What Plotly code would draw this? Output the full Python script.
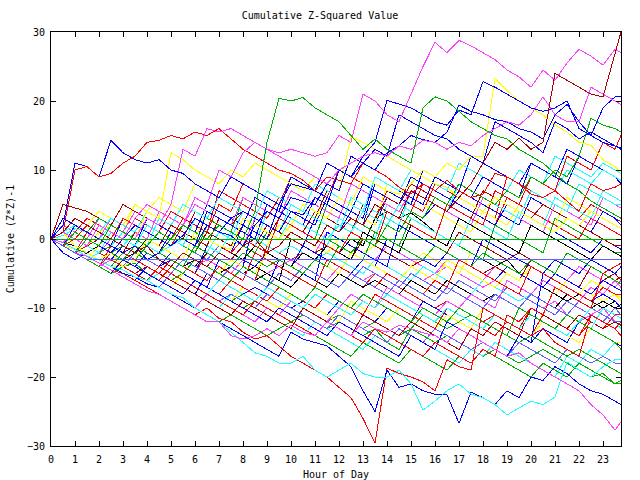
import plotly.graph_objects as go

# hours: every half hour, plus final quarter (23.75)
HOURS = [i * 0.5 for i in range(48)] + [23.75]

COLORS = {
    "red": "#ff0000", "green": "#00b000", "blue": "#0000ff", "magenta": "#ff40ff",
    "cyan": "#20ffff", "darkred": "#a80000", "yellow": "#ffff00", "black": "#000000",
    "slateblue": "#6060ff",
}

s01 = [0,-0.5, 1,0, -1,2, 1,0,
       3,2, 5,13, 12,16, 15.5,16,
       15,14, 13,12.5, 13,12.5, 12,12.5,
       15,14, 21,20, 18,17, 21,25,
       28.5,27, 28.8,28, 27,26, 24.5,23.5,
       22,24.5, 23,25.5, 27.5,26.5, 25.2,27.5,
       27]
s02 = [0,1, 0,-1, 2,1, 0,3,
       5,4, 3,2, 6,5, 10,9,
       12.5,14, 13,12, 11,10, 9,8,
       10,11, 12,12.5, 12,13.5, 13,14.3,
       14,13, 14,13.5, 15,16, 17,16.5,
       18,20.6, 18,17, 17,22, 21,20,
       19.5]
s03 = [0,1, 3,2, 1,0, -1,-2,
       -1,-3, -4,-2, -3,-4, -2,-3,
       -1,0, -2,-1, 1,0, -1,2,
       1,3, 2,5, 4,3, 7,6,
       5,4, 6,8, 11,14, 13,14.6,
       13,14, 24,23, 22,21, 20.6,27,
       30]
s04 = [0,-1, 1,0, -1,2, 1,0,
       -1,1, 0,2, 1,0, 2,1,
       0,4, 14,20.4, 20,20.5, 19,18,
       17,15, 13,14.5, 13,12, 11,19,
       20.6,20, 18.5,17, 16,15, 14.5,13,
       12,11, 9.5,8, 7,5.5, 4.5,3.5,
       3]
s05 = [0,-1, -2,-2.5, -3.5,-4.5, -5,-6,
       -7,-8, -9,-10, -11,-10, -11.5,-12,
       -13.5,-14.5, -14,-15.5, -17,-18, -19,-20,
       -21.5,-23, -26,-29.6, -18.7,-19.5, -20,-20.7,
       -22,-17.5, -18.5,-19, -10,-11, -12,-13,
       -14,-13, -15,-16, -17,-11, -12,-13,
       -14]
s06 = [0,-1, -2,-3, -3,-4, -5,-5.5,
       -6.5,-7, -8,-9, -10,-11, -12,-13,
       -14,-15, -16,-17, -13.5,-14.5, -15,-15.5,
       -17,-18.5, -22,-25, -19,-21.5, -21,-22,
       -22.5,-22.6, -26.7,-22.2, -23,-24, -22,-23,
       -20,-20.5, -18.5,-19.5, -21,-22, -22.5,-23.5,
       -24]
s07 = [0,-0.5, -1.5,-2.5, -3,-4, -4.5,-5.5,
       -6,-7, -8,-8.5, -10,-11, -12,-13.5,
       -15,-16.5, -17,-18, -18,-17, -19,-20,
       -19,-18, -19.5,-20, -20,-19, -21,-24.8,
       -23.5,-22, -21,-22.5, -23,-24, -25.5,-24.5,
       -23.5,-24, -22.9,-17.8, -19,-20, -18.5,-17.5,
       -17.5]
s08 = [0,-1, -2,-2.5, -3.5,-4.5, -5.5,-6.5,
       -7.5,-8, -9,-10, -11,-12, -12,-14,
       -14.5,-14, -13,-14, -12.5,-13.5, -14,-12,
       -13,-14, -12,-13, -13.5,-12.5, -13,-13.6,
       -14,-15, -13,-14, -15,-16, -17,-16.5,
       -18,-19, -20,-21, -22,-24, -25.5,-27.7,
       -26.5]
s09 = [0,2, 11,10.5, 9,14.3, 12.5,11.5,
       11,11.5, 10,9.5, 8,7, 6,9,
       8,7, 6,5, 8,7.5, 7,11,
       10,9, 11,13, 12,18, 17,16,
       15,14.5, 13,12, 11,17, 16,15,
       14,12.5, 17,16, 14.5,15.5, 14.5,13.5,
       13]
s10 = [0,1, 10,10.5, 9,9.5, 11,12,
       14,14.3, 15,14.5, 15.5,15, 16,14.5,
       13,12, 11,10, 9.5,8.5, 7,9,
       8.5,8, 11,10, 9,7.5, 6.5,8,
       7,8.5, 7,6, 6.5,9.5, 9,8,
       6.5,6, 7,5.5, 4,8, 7,7.5,
       8]
s11 = [0,-1, 1,0, -1,-2, 0,2,
       1,0, -1,0.5, 3,2, 1,3,
       4,3, 2,1, 4,3.5, 6,5,
       10,9, 12,14, 20.1,19.5, 19,18,
       17,16.5, 18.7,18, 22.8,22, 21,20,
       19,18.5, 19,20, 16,15, 19,20.6,
       20.6]
s12 = [0,3, 2,1, 0,-1, -2,-1,
       -3,-2, 1,0, -1,2, 1,0.5,
       -1,2, 4,3, 6,5.5, 5,8,
       7,12, 11,10, 12.5,13.5, 15,14.4,
       14,15.5, 19.4,18.5, 18,17.3, 17,16,
       15.5,14.5, 18,19.5, 17,15, 14,13.5,
       13.2]
s13 = [0,1, -1,-2, -3,-2, -4,-3,
       0,-1, -2,-3, 1,0, -1,-1.5,
       3,2, 1,0, 2,5, 4,3,
       6,5, 9,8, 7,6.5, 8,10,
       9,11, 10,12, 12,23.3, 21.5,20,
       19,18, 16.5,15.5, 14,13.6, 11.5,10.5,
       9.7]
s14 = [0,-1, -2,1, 0,-1, -2,-3,
       -1,-2, -3,-4, -5,-2, -3,-4,
       -5,-6, -1,-2, -3,-2, -3,-4,
       -5,-6, -7,-5, -6,-7, -8,-9,
       -10,-9, -10,-11, -12,-11, -12,-13,
       -10,-11, -12,-13, -14,-11, -12,-13,
       -12]
s15 = [0,1, 0,-1, -2,-3, -4,-3.5,
       -5,-6, -4,-5, -6,-7, -8,-9,
       -10,-9, -10,-11, -12,-11, -12,-13,
       -12,-13, -14,-13, -15,-16, -13,-14,
       -15,-14, -15,-16, -17,-16, -17,-18,
       -17,-16, -17,-18, -19,-20, -19.5,-21,
       -21]
s16 = [0,-1, -1.5,-2, -3,-4, -2,-3,
       -4,-5, -6,-5, -6,-7, -8,-9,
       -8,-9, -10,-11, -9,-10, -11,-12,
       -11,-12, -13,-12, -13,-14, -13,-11,
       -12,-13, -12,-11, -12,-13, -14,-15,
       -14,-15, -16,-17, -16,-17, -18,-19,
       -19.5]
s17 = [0,-1, -2,-1, -2,-3, -4,-5,
       -6,-5, -6,-7, -8,-9, -10,-8,
       -9,-10, -11,-12, -13,-14, -12,-13,
       -14,-15, -16,-14, -15,-13, -14,-15,
       -16,-17, -18,-16, -17,-15, -16,-17,
       -18,-19, -20,-17, -18,-16, -17,-15,
       -15]
s18 = [0,1, 0,2, 1,0, -1,1,
       0,-1, 2,1, 0,-1, 3,2,
       1,0, -1,-2, -1,-2, -3,-2,
       -3,-4, -5,-3, -4,-5, -6,-4,
       -5,-6, -7,-8, -6,-7, -8,-9,
       -8,-9, -10,-11, -12,-10, -11,-12,
       -13]
s19 = [0,1, 2,1, 0,-1, 1,0,
       -1,-2, -1,0, -1,-2, 1,0,
       -1,2, 1,0, 3,2, 1,0,
       2,1, 4,3, 2,5, 4,3,
       6,5, 8,7, 6,5, 7,6,
       9,8, 7,10, 9,8, 10,9,
       8.5]
s20 = [0,-1, 0,-1, 1,0, -1,-2,
       -3,-2, 0,-1, -2,1, 0,-1,
       2,1, 0,3, 2,1, 4,3,
       2,1, 5,4, 3,2, 1,0,
       -1,-2, 1,0, -1,-2, -3,-2,
       -3,-4, -5,-6, -4,-5, -6,-5,
       -6]
s21 = [0,5, 4.5,4, 3,2, 5,4,
       3,2, 1,0, 4,3, 2,1,
       0,-1, 2,1, 0,-1, -2,-1,
       -2,-3, 0,-1, -2,-3, -4,-3,
       -4,-2, -3,-4, -5,-4, -5,-6,
       -3,-4, -5,-6, -7,-4, -5,-6,
       -5.5]
s22 = [0,2, 1,0, 3,2, 1,5,
       4,3, 2,1, 0,4, 3,2,
       1,0, -1,2, 1,0, -1,-2,
       0,-1, -2,-1, -2,-3, -4,-2,
       -3,-4, -5,-2, -3,-4, -3,-5,
       -6,-7, -8,-6, -7,-8, -9,-8,
       -9]
s23 = [0,1, 0,-1, 1,2, 1,0,
       4,3, 12.5,11.5, 10,9, 8,10,
       9,11, 10,9, 8,7, 9,8,
       7,14.8, 14,13, 12,11, 10,9,
       8,7.5, 6,5, 4,6, 5,4,
       3,2, 1,3, 2,4, 3,2,
       1.5]
s24 = [0,-2, -3,-2, -3,-4, -5,-6,
       -4,-5, -6,-7, -8,-5, -6,-7,
       -8,-7, -8,-9, -10,-9, -10,-11,
       -9,-10, -11,-12, -10,-11, -12,-9,
       -10,-11, -12,-13, -14,-12, -13,-14,
       -15,-13, -14,-15, -12,-13, -14,-15,
       -15.5]
s25 = [0,-1, -2,-3, -2,-3, -1,-2,
       -3,-4, -3,-4, -5,-1, -2,-3,
       -4,3, 2,1, 0,-1, 3,2,
       1,4, 3,2, 6,5, 4,3,
       5,4, 7,6, 5,4, 3,2,
       6,5, 4,3, 2,1, 4,3,
       2]
s26 = [0,-1, 0,-1, -2,0, -1,-2,
       -3,-4, -2,-3, -4,-3, -4,-5,
       -3,-4, -5,-4, -3,-4, -5,-6,
       -4,-5, -6,-5, -6,-7, -5,-6,
       -5,-4, -5,-6, -7,-6, -7,-8,
       -9,-10, -9,-11, -12,-11, -10,-12,
       -12]
s27 = [0,1, 0,-1, -2,-1, -2,-3,
       -1,-2, -3,-4, -3,-4, -5,-4,
       -5,-6, -5,-6, 0,-1, -2,-1,
       -2,0, -1,3, 4,3, 3.8,2.5,
       1,0, -1,-2, -3,-4, -3,-5,
       -6,-7, -8,-9, -8,-9, -10,-9,
       -10]
s28 = [0,-0.5, -1,-2, -1,-2, -3,-2,
       -3,-4, -2,-3, -4,-2, -3,-4,
       -5,-4, -5,-6, -7,-5, -6,-7,
       -5,-6, -7,-6, -7,-8, -6,-7,
       -8,-6, -7,-8, -9,-8, -9,-10,
       -8,-9, -10,-8, -9,-10, -9,-10,
       -9.5]
s29 = [0,2, 1,3, 2,1, 0,-1,
       2,1, 0,3, 2,1, 7,6,
       5,4, 3,6, 5,4, 8,7,
       6,5, 4,3, 7,6, 5,4,
       8,7, 6,5, 4,3, 9,8,
       7,6, 5,4, 3,5, 4,3,
       2.5]
s30 = [0,-1, -2,-3, -4,-2, -3,-4,
       -5,-6, -4,-5, -6,-7, -8,-6,
       -7,-8, -9,-7, -8,-9, -10,-8,
       -9,-10, -11,-8, -9,-10, -11,-12,
       -13,-10, -11,-12, -13,-14, -12,-13,
       -14,-11, -12,-13, -14,-12, -13,-11,
       -11]
s31 = [0,1, 2,1, 3,2, 1,0,
       4,3, 2,5, 4,3, 2,1,
       6,5, 4,3, 2,1, 0,5,
       4,3, 2,1, 0,-1, 3,2,
       1,0, -1,-2, -3,2, 1,0,
       -1,-2, 3,2, 1,0, -1,-2,
       -2]
s32 = [0,-1, 1,0, -1,-2, -1,-2,
       -3,-2, -3,-4, -1,-2, -3,-4,
       -2,-3, -4,-3, -4,-5, -3,-4,
       -1,-2, 0,-1, 2,1, 4,3,
       6,5, 8,7, 6,5, 7,6,
       9,8, 10,9, 12,17.5, 16.5,16,
       15.5]
s33 = [0,-1, -2,-3, -4,-5, -3,-4,
       -5,-6, -7,-8, -6,-7, -8,-9,
       -10,-11, -12,-10, -11,-12, -13,-14,
       -12,-13, -14,-15, -16,-17, -14,-15,
       -16,-12, -13,-14, -15,-16, -17,-14,
       -15,-5, -6,-7, -8,-9, -8,-9,
       -10]
s34 = [0,1, 0,-1, 2,1, 0,-1,
       3,2, 1,0, -1,4, 3,2,
       1,0, 5,4, 3,2, 6,5,
       4,3, 2,8, 7,6, 5,10,
       9,8, 7,6, 9,8, 7,6,
       11,10, 9,8, 12,11, 10,9,
       8]
s35 = [0,-1, -2,-1, -2,-3, -4,-5,
       -6,-7, -5,-6, -7,-8, -9,-8,
       -9,-10, -8,-9, -10,-11, -12,-13,
       -11,-12, -13,-14, -15,-13, -14,-15,
       -13,-14, -15,-16, -15,-16, -17,-15,
       -16,-17, -18,-16, -17,-18, -17,-18,
       -18]
s36 = [0,-1, -1.5,-2.5, -3.5,-4.5, -3,-4,
       -5,-6, -7,-5, -6,-7, -8,-9,
       -7,-8, -9,-10, -8,-9, -10,-11,
       -12,-9, -10,-11, -12,-10, -11,-12,
       -13,-11, -12,-13, -10,-11, -12,-13,
       -14,-12, -13,-14, -15,-13, -14,-15,
       -15]
s37 = [0,0.5, 1.5,1, 0,2, 1,0,
       -1,3, 2,1, 0,-1, -2,1,
       0,-1, 4,3, 2,1, 0,-1,
       3,2, 1,0, 5,4, 3,2,
       1,0, -1,3, 2,1, 0,4,
       3,2, 6,5, 4,3, 7,6,
       5.5]
s38 = [0,-1, -2,-3, -4,-3, -4,-5,
       -6,-7, -8,-9, -10,-8, -9,-10,
       -11,-12, -10,-11, -9,-10, -11,-12,
       -10,-8, -9,-10, -7,-8, -9,-10,
       -11,-9, -10,-8, -9,-10, -6,-7,
       -8,-6, -7,-8, -9,-7, -8,-6,
       -7]
s39 = [0,-1, 0,2, 1,0, 3,2,
       1,0, -1,2, 1,0, -1,-2,
       0,-1, -2,3, 2,1, 0,-1,
       -2,1, 0,-1, 4,3, 2,1,
       0,5, 4,3, 2,7, 6,5,
       9,8, 7,12, 11,10, 14,13,
       15]
s40 = [0,-1, -2,-3, -2,-3, -4,-5,
       -4,-5, -6,-7, -8,-9, -10,-11,
       -9,-10, -11,-12, -13,-10, -11,-12,
       -13,-14, -11,-12, -13,-14, -12,-13,
       -14,-15, -16,-13, -14,-12, -13,-14,
       -10,-11, -12,-13, -11,-12, -13,-12,
       -12.5]
s41 = [0,1, 3,2, 1,0, -1,-2,
       0,-1, -2,-3, 1,0, -1,-2,
       -3,-4, -2,-3, -4,-1, -2,-3,
       -4,-5, -3,-4, 0,-1, -2,-3,
       -4,-2, -3,-4, -5,-6, -4,-5,
       -6,-7, -5,-6, -7,-8, -6,-7,
       -7.5]
s42 = [0,1, 3,2, 4,3, 2,5,
       4,6, 5,4, 8,7, 6,5,
       4,3, 7,6, 5,4, 3,6,
       5,4, 3,2, 8,7, 6,5,
       4,3, 2,1, 4,3, 2,5,
       4,3, 2,6, 5,4, 3,2,
       1.5]
s43 = [0,-1, -2,-1, -2,-3, -4,-5,
       -6,-4, -5,-6, -7,-8, -9,-10,
       -11,-9, -10,-11, -12,-13, -14,-12,
       -13,-14, -15,-13, -14,-15, -16,-17,
       -15,-16, -17,-18, -16,-17, -11,-12,
       -10,-11, -7,-8, -9,-10, -5,-4,
       -3.5]
s44 = [0,-1, -2,0, -1,-2, -3,-1,
       -2,-3, -4,-5, -3,-4, -5,-6,
       -4,-5, -6,-7, -8,-9, -7,-8,
       -9,-10, -8,-9, -10,-11, -12,-10,
       -11,-12, -10,-11, -12,-13, -14,-10,
       -11,-12, -13,-11, -12,-13, -14,-15,
       -16]
s45 = [0] * 49
s46 = [0,-1, -2,-3, -3,-3, -3,-3,
       -3,-3, -3,-3, -3,-3, -3,-3,
       -3,-3, -3,-3, -3,-3, -3,-3,
       -3,-3, -3,-3, -3,-3, -3,-3,
       -3,-3, -3,-3, -3,-3, -3,-3,
       -3,-3, -3,-3, -3,-3, -3,-3,
       -3]
s47 = [0,2, 1,0, 3,2, 1,4,
       3,2, 1,0, -1,2, 1,0,
       -1,3, 2,1, 0,-1, -2,1,
       0,-1, -2,-3, -1,-2, -3,-4,
       -5,-3, -4,-5, -6,-4, -5,-6,
       -3,-4, -5,-6, -4,-5, -6,-7,
       -6]
s48 = [0,-1, 0,-1, -2,1, 0,-1,
       2,1, 0,-1, 3,2, 1,0,
       4,3, 2,1, 5,4, 3,2,
       1,6, 5,4, 3,2, 7,6,
       5,4, 8,7, 6,5, 4,3,
       7,6, 5,4, 8,7, 6,5,
       5]
s49 = [0,1, 0,2, 1,0, -1,-2,
       -1,1, 0,-1, -2,-3, -1,-2,
       -3,-4, -2,-3, -4,-5, -3,-4,
       -5,-6, -4,-5, -6,-7, -5,-6,
       -7,-8, -6,-7, -8,-9, -7,-8,
       -9,-10, -11,-9, -10,-11, -12,-10,
       -11]
s50 = [0,-1, -2,-3, -1,-2, -3,-4,
       -2,-3, -4,-5, -6,-7, -3,-4,
       -5,-6, -7,-3, -4,-5, -6,1,
       0,-1, -2,-3, -4,2, 1,0,
       -1,-2, -3,-4, 0,-1, -2,-3,
       -4,-5, -3,-4, -5,-3, -4,-5,
       -4]
s51 = [0,1, 0,-1, 2,1, 0,3,
       2,1, 4,3, 2,1, 5,4,
       8,7, 6,5, 9,8, 7,6,
       10,9, 8,7, 6,5, 4,8,
       7,6, 5,4, 3,2, 6,5,
       4,3, 2,1, 0,3, 2,1,
       0.5]
s52 = [0,-1, 2,1, 0,-1, 3,2,
       1,0, -1,2, 1,5, 4,3,
       2,6, 5,4, 9,8, 7,6,
       5,4, 8,7, 6,5, 9,8,
       7,6, 5,4, 3,2, 5,4,
       3,2, 1,0, -1,-2, 0,-1,
       -1.5]
s53 = [0,-1, -2,-1, 0,-1, -2,1,
       0,-1, 2,1, 0,-1, 3,2,
       4,3, 2,1, 5,4, 3,7,
       6,5, 4,3, 6,5, 8,7,
       6,5, 4,3, 7,6, 5,4,
       3,5, 4,3, 2,1, 0,-1,
       -1]
s54 = [0,-1, 0,-1, -2,-1, -2,-3,
       -1,-2, 0,-1, -2,2, 1,0,
       -1,-2, 1,0, 3,2, 1,0,
       -1,-2, -3,1, 0,-1, -2,-3,
       -1,-2, -3,-4, -2,-3, -4,-5,
       -3,-4, -5,-2, -3,-4, -5,-6,
       -6.5]
s55 = [0,-1, -2,-3, -2,-3, -4,-5,
       -6,-4, -5,-6, -7,-8, -6,-7,
       -8,-9, -7,-8, -9,-10, -8,-9,
       -10,-11, -9,-10, -8,-9, -10,-11,
       -12,-10, -11,-12, -13,-11, -12,-13,
       -11,-12, -13,-14, -12,-13, -10,-11,
       -11.5]
s56 = [0,1, 2,1, 0,3, 2,1,
       0,4, 3,2, 5,4, 3,2,
       6,5, 4,3, 7,6, 5,4,
       3,8, 7,6, 5,4, 7,6,
       5,4, 3,2, 6,5, 4,3,
       2,1, 5,4, 3,2, 6,5,
       4.5]
s57 = [0,-1, -2,-3, -1,-2, -3,-1,
       -2,-3, -4,-2, -3,-4, -5,-3,
       -4,-5, -2,-3, -4,-5, -3,-4,
       -5,-2, -3,-4, -5,-6, -4,-5,
       -6,-3, -4,-5, -6,-7, -5,-6,
       -4,-5, -6,-7, -8,-6, -7,-8,
       -8.5]
s58 = [0,-1, 1,0, -1,-2, -1,-2,
       0,-1, -2,-3, 1,0, -1,-2,
       -3,-1, -2,-3, -4,-2, -3,-1,
       -2,-3, 1,0, -1,-2, 2,1,
       0,-1, 3,2, 1,0, -1,-2,
       2,1, 0,-1, -2,-3, -1,-2,
       -2.5]
s59 = [0,-1, -2,-1, -2,-3, -1,-2,
       -3,-4, -2,-3, 1,0, -1,-2,
       2,1, 0,5, 4,3, 2,6,
       5,4, 3,9, 8,7, 6,5,
       9,8, 7,12, 11,10, 9,8,
       11,10, 9,13, 12,11, 10,9,
       8.5]
s60 = [0,-1, -2,-3, -4,-1, -2,-3,
       -4,-5, -3,-4, -5,-6, -4,-5,
       -6,-2, -3,-4, -5,-6, -7,-3,
       -4,-5, -6,-7, -5,-6, -7,-8,
       -6,-7, -3,-4, -5,-6, -7,-8,
       -4,-5, -6,-7, -8,-9, -7,-8,
       -8]
s61 = [0,-1, -2,-1, -2,-3, -4,-2,
       -3,-4, -5,-3, -4,-5, -6,-4,
       -5,-6, -7,-5, -6,-4, -5,-6,
       -7,-5, -6,-7, -8,-6, -7,-8,
       -9,-7, -8,-9, -10,-8, -9,-10,
       -8,-9, -10,-11, -9,-10, -11,-12,
       -12]
s62 = [0,1, 0,2, 1,3, 2,1,
       4,3, 2,5, 4,3, 6,5,
       4,3, 7,6, 5,4, 8,7,
       6,5, 4,9, 8,7, 10,9,
       8,7, 11,10, 9,8, 7,10,
       9,8, 12,11, 10,9, 11,10,
       9.5]
s63 = [0,-1, -2,-3, -4,-5, -4,-5,
       -6,-7, -8,-9, -10,-11, -12,-11,
       -12,-13, -14,-13, -12,-13, -14,-15,
       -16,-17, -15,-16, -17,-18, -16,-17,
       -18,-19, -17,-18, -16,-17, -18,-19,
       -20,-18, -19,-20, -18,-19, -20,-21,
       -20.5]

SERIES = [
    (s14, "red"), (s15, "green"), (s24, "blue"), (s26, "magenta"), (s17, "cyan"),
    (s20, "darkred"), (s22, "yellow"), (s27, "black"), (s49, "slateblue"),
    (s29, "red"), (s16, "green"), (s25, "blue"), (s47, "magenta"), (s18, "cyan"),
    (s21, "darkred"), (s36, "yellow"), (s28, "black"), (s35, "slateblue"),
    (s30, "red"), (s31, "green"), (s33, "blue"), (s38, "magenta"), (s37, "cyan"),
    (s40, "darkred"), (s42, "yellow"), (s41, "blue"), (s50, "blue"),
    (s51, "red"), (s52, "blue"), (s53, "darkred"), (s54, "green"), (s55, "cyan"),
    (s56, "magenta"), (s57, "yellow"), (s58, "black"), (s59, "blue"), (s60, "red"),
    (s61, "slateblue"), (s62, "cyan"), (s63, "green"),
    (s43, "red"), (s44, "green"), (s34, "blue"), (s48, "cyan"), (s19, "cyan"),
    (s39, "red"), (s32, "green"), (s23, "yellow"), (s13, "yellow"),
    (s05, "red"), (s06, "blue"), (s07, "cyan"), (s08, "magenta"),
    (s09, "blue"), (s10, "red"), (s11, "blue"), (s12, "blue"),
    (s01, "magenta"), (s02, "magenta"), (s03, "darkred"), (s04, "green"),
    (s45, "green"), (s46, "slateblue"),
]

fig = go.Figure()
for vals, cname in SERIES:
    assert len(vals) == len(HOURS), (cname, len(vals))
    fig.add_trace(go.Scatter(x=HOURS, y=vals, mode="lines",
                             line=dict(color=COLORS[cname], width=1),
                             hoverinfo="skip", showlegend=False))

FONT = "DejaVu Sans Mono"
axis_common = dict(showline=True, linecolor="black", linewidth=1, mirror="ticks",
                   ticks="inside", ticklen=5, tickcolor="black", showgrid=False,
                   zeroline=False, automargin=False,
                   tickfont=dict(family=FONT, size=10, color="black"))

fig.update_layout(
    width=640, height=480,
    margin=dict(l=51, r=19, t=32, b=34),
    paper_bgcolor="white", plot_bgcolor="white",
    title=dict(text="Cumulative Z-Squared Value", x=0.5, xanchor="center",
               y=1 - 15 / 480, yanchor="middle",
               font=dict(family=FONT, size=10, color="black")),
    xaxis=dict(range=[0, 23.75], tickmode="linear", tick0=0, dtick=1,
               ticklabelstandoff=4,
               title=dict(text="Hour of Day", standoff=6,
                          font=dict(family=FONT, size=10, color="black")),
               **axis_common),
    yaxis=dict(range=[-30, 30], tickmode="linear", tick0=-30, dtick=10,
               ticklabelstandoff=3,
               title=dict(text="Cumulative (Z*Z)-1", standoff=10,
                          font=dict(family=FONT, size=10, color="black")),
               **axis_common),
    showlegend=False,
)

CRISP = ("document.querySelectorAll('.scatterlayer path').forEach("
         "function(p){p.style.shapeRendering='crispEdges';});")
fig.write_html("out.html", post_script=CRISP)
